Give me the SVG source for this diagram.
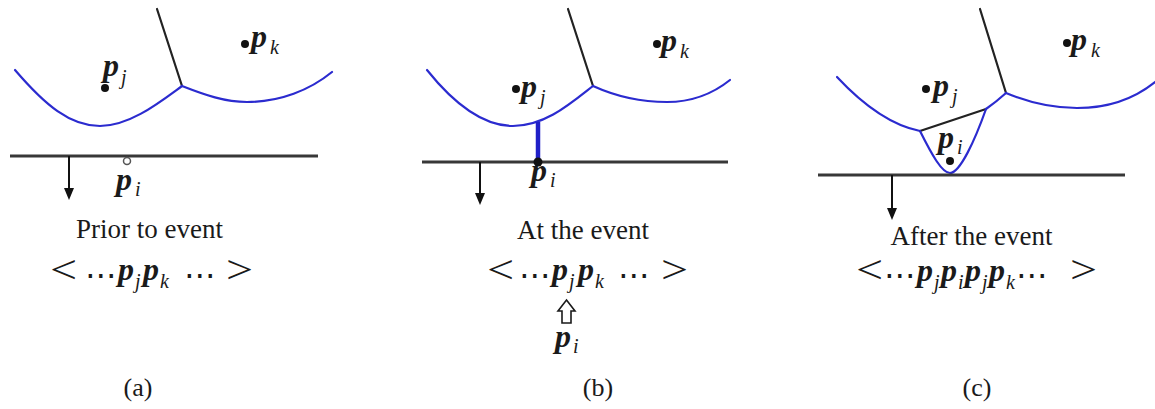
<svg xmlns="http://www.w3.org/2000/svg" width="1155" height="409" viewBox="0 0 1155 409">
<defs>
<style>
.bg{fill:#fff}
.beach{fill:none;stroke:#2b2bcf;stroke-width:2.2;stroke-linecap:round;stroke-linejoin:round}
.edge{fill:none;stroke:#222;stroke-width:2.2;stroke-linecap:round}
.sweep{fill:none;stroke:#383838;stroke-width:3}
.dir{fill:none;stroke:#111;stroke-width:2}
.dot{fill:#111}
.p{font-family:"Liberation Serif",serif;font-weight:bold;font-style:italic;font-size:32px;fill:#1a1a1a}
.sub{font-family:"Liberation Serif",serif;font-style:italic;font-weight:normal;font-size:20px;fill:#1a1a1a}
.cap{font-family:"Liberation Serif",serif;font-size:27px;fill:#1a1a1a;text-anchor:middle}
.sym{font-family:"Liberation Serif",serif;font-size:40px;fill:#1a1a1a}
.dots{font-family:"DejaVu Sans",sans-serif;font-size:32px;fill:#1a1a1a}
.lab{font-family:"Liberation Serif",serif;font-size:26px;fill:#1a1a1a;text-anchor:middle}
</style>
</defs>
<rect class="bg" x="0" y="0" width="1155" height="409"/>

<g id="panel-a">
<g id="a-connectors">
<line class="edge" x1="157" y1="9" x2="182" y2="86"/>
<path class="beach" d="M15,70 C45,105 70,126 100,126 C130,126 160,102 182,86"/>
<path class="beach" d="M182,86 C205,95 225,102 247,102 C280,102 310,90 332,72"/>
<line class="sweep" x1="10" y1="156" x2="318" y2="156"/>
<path d="M69,156 L69,188" class="dir"/>
<path d="M64,188 L74,188 L69,200 Z" fill="#111"/>
</g>
<g id="a-pj"><circle class="dot" cx="105" cy="88" r="4"/><text class="p" x="103" y="76">p</text><text class="sub" x="121" y="84">j</text></g>
<g id="a-pk"><circle class="dot" cx="245" cy="44" r="4"/><text class="p" x="251" y="47">p</text><text class="sub" x="270" y="54">k</text></g>
<g id="a-pi"><circle cx="127" cy="161" r="3.5" fill="#fff" stroke="#555" stroke-width="1.5"/><text class="p" x="116" y="190">p</text><text class="sub" x="135" y="196">i</text></g>
<text class="cap" x="149.5" y="238">Prior to event</text>
<g id="a-seq">
<text class="sym" transform="translate(50,283) scale(1.2,1)">&lt;</text>
<text class="dots" x="85" y="286">⋯</text>
<text class="p" x="118" y="280">p</text><text class="sub" x="135" y="288">j</text>
<text class="p" x="143" y="280">p</text><text class="sub" x="160" y="288">k</text>
<text class="dots" x="184" y="286">⋯</text>
<text class="sym" transform="translate(226,283) scale(1.2,1)">&gt;</text>
</g>
<text class="lab" x="138" y="396">(a)</text>
</g>

<g id="panel-b">
<g id="b-connectors">
<line class="edge" x1="568" y1="9" x2="593" y2="86"/>
<path class="beach" d="M427,70 C455,105 485,126 513,126 C545,126 570,104 593,86"/>
<path class="beach" d="M593,86 C615,96 640,102 667,102 C695,102 715,92 730,80"/>
<line x1="538" y1="122" x2="538" y2="162" stroke="#2020c8" stroke-width="4.5"/>
<line class="sweep" x1="422" y1="162" x2="728" y2="162"/>
<path d="M480,162 L480,193" class="dir"/>
<path d="M475,193 L485,193 L480,205 Z" fill="#111"/>
</g>
<g id="b-pj"><circle class="dot" cx="516" cy="89" r="4"/><text class="p" x="521" y="97">p</text><text class="sub" x="540" y="104">j</text></g>
<g id="b-pk"><circle class="dot" cx="657" cy="44" r="4"/><text class="p" x="661" y="51">p</text><text class="sub" x="680" y="58">k</text></g>
<g id="b-pi"><circle class="dot" cx="538" cy="162" r="4.5"/><text class="p" x="531" y="181">p</text><text class="sub" x="550" y="187">i</text></g>
<text class="cap" x="583" y="239">At the event</text>
<g id="b-seq">
<text class="sym" transform="translate(487,283) scale(1.2,1)">&lt;</text>
<text class="dots" x="519" y="286">⋯</text>
<text class="p" x="552" y="280">p</text><text class="sub" x="569" y="288">j</text>
<text class="p" x="578" y="280">p</text><text class="sub" x="595" y="288">k</text>
<text class="dots" x="618" y="286">⋯</text>
<text class="sym" transform="translate(661,283) scale(1.2,1)">&gt;</text>
<path d="M566.5,300 L575,311 L571,311 L571,323 L562,323 L562,311 L558,311 Z" fill="none" stroke="#1a1a1a" stroke-width="1.6"/>
<text class="p" x="555" y="347">p</text><text class="sub" x="573" y="353">i</text>
</g>
<text class="lab" x="598" y="396">(b)</text>
</g>

<g id="panel-c">
<g id="c-connectors">
<line class="edge" x1="980" y1="9" x2="1006" y2="93"/>
<path class="beach" d="M837,77 Q880,123 920,131"/>
<line class="edge" x1="920" y1="131" x2="986" y2="109"/>
<path class="beach" d="M920,131 C932,155 942,173 950,173 C960,173 975,140 986,109"/>
<path class="beach" d="M986,109 Q996,102 1006,93"/>
<path class="beach" d="M1006,93 C1030,103 1055,108 1077,108 C1110,108 1135,98 1155,82"/>
<line class="sweep" x1="818" y1="175" x2="1125" y2="175"/>
<path d="M892,175 L892,208" class="dir"/>
<path d="M887,208 L897,208 L892,220 Z" fill="#111"/>
</g>
<g id="c-pj"><circle class="dot" cx="926" cy="89" r="4"/><text class="p" x="933" y="96">p</text><text class="sub" x="952" y="103">j</text></g>
<g id="c-pk"><circle class="dot" cx="1067" cy="43" r="4"/><text class="p" x="1071" y="50">p</text><text class="sub" x="1091" y="57">k</text></g>
<g id="c-pi"><circle class="dot" cx="950" cy="161" r="4"/><text class="p" x="938" y="148">p</text><text class="sub" x="957" y="154">i</text></g>
<text class="cap" x="971.5" y="245">After the event</text>
<g id="c-seq">
<text class="sym" transform="translate(856,283) scale(1.2,1)">&lt;</text>
<text class="dots" x="884" y="286">⋯</text>
<text class="p" x="917" y="281">p</text><text class="sub" x="934" y="289">j</text>
<text class="p" x="941" y="281">p</text><text class="sub" x="958" y="289">i</text>
<text class="p" x="965" y="281">p</text><text class="sub" x="982" y="289">j</text>
<text class="p" x="989" y="281">p</text><text class="sub" x="1006" y="289">k</text>
<text class="dots" x="1016" y="286">⋯</text>
<text class="sym" transform="translate(1070,283) scale(1.2,1)">&gt;</text>
</g>
<text class="lab" x="977" y="396">(c)</text>
</g>
</svg>
